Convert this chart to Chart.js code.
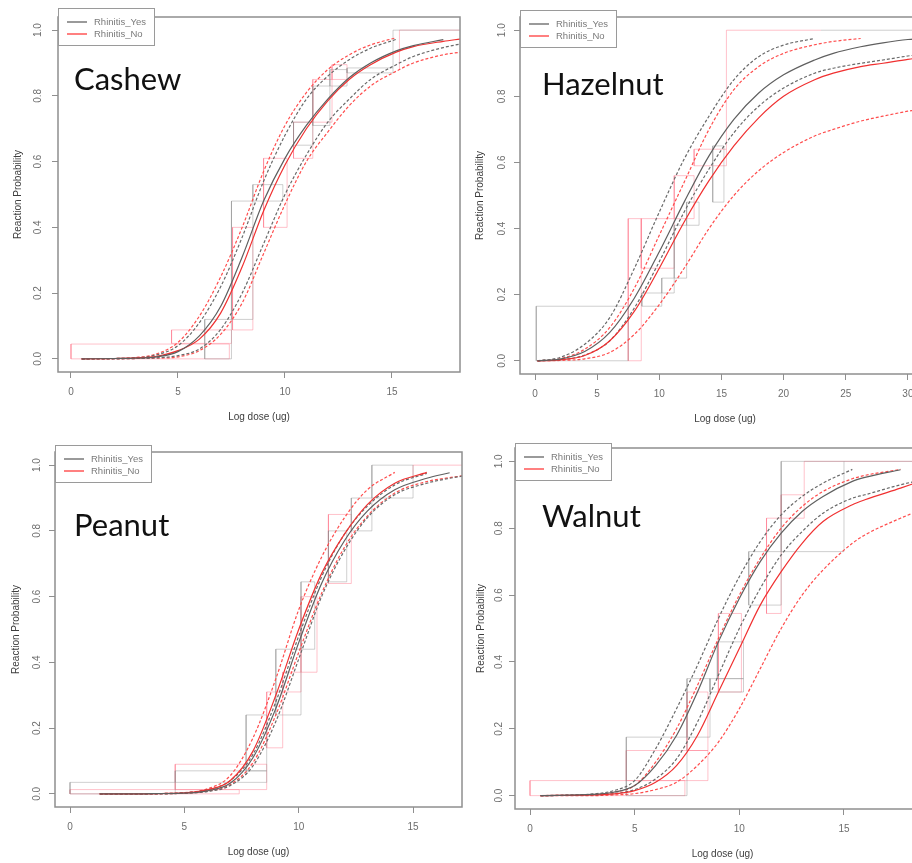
<!DOCTYPE html>
<html>
<head>
<meta charset="utf-8">
<title>Reaction probability by rhinitis status</title>
<script src="https://cdn.jsdelivr.net/npm/chart.js@4.4.1/dist/chart.umd.min.js"></script>
<style>
  html, body { margin: 0; padding: 0; background: #fff; overflow: hidden; }
  body { width: 912px; height: 863px; position: relative; }
  canvas { position: absolute; }
  .food { position: absolute; font-family: Lato, sans-serif; font-size: 31px; line-height: 31px; color: #111; white-space: nowrap; }
  .key { position: absolute; width: 97px; height: 38px; box-sizing: border-box; border: 1px solid #9a9a9a; background: #fff;
         font-family: 'Liberation Sans', Arial, sans-serif; font-size: 9.5px; color: #7a7a7a; }
  .key div { position: absolute; left: 35px; height: 12px; line-height: 12px; white-space: nowrap; }
  .key i { position: absolute; left: 8px; width: 20px; height: 2px; }
</style>
</head>
<body>
<script>
// shared axis ticks
const probTicks = [0, 0.2, 0.4, 0.6, 0.8, 1.0];
const doseTicks = [0, 5, 10, 15];
const hazelDoseTicks = [0, 5, 10, 15, 20, 25, 30];
const groups = ['Rhinitis_Yes', 'Rhinitis_No'];

// Cashew: fitted curve and confidence limits per group
const cashewDose     = [0.5, 2, 3, 4, 5, 6, 7, 8, 9, 10, 11, 12, 13, 14, 15.2, 16, 17.4, 18.2];
const cashewYesFit   = [0, 0.001, 0.002, 0.006, 0.022, 0.07, 0.16, 0.31, 0.48, 0.61, 0.71, 0.79, 0.855, 0.90, 0.937, 0.953, 0.971, null];
const cashewYesUpper = [0, 0.001, 0.003, 0.012, 0.04, 0.11, 0.22, 0.37, 0.54, 0.68, 0.79, 0.86, 0.91, 0.945, 0.972, null, null, null];
const cashewYesLower = [0, 0, 0.001, 0.003, 0.01, 0.03, 0.09, 0.20, 0.35, 0.50, 0.62, 0.72, 0.79, 0.85, 0.895, 0.92, 0.947, 0.958];
const cashewNoFit    = [0, 0.001, 0.003, 0.008, 0.025, 0.06, 0.14, 0.28, 0.45, 0.59, 0.70, 0.785, 0.85, 0.895, 0.933, 0.95, 0.966, 0.973];
const cashewNoUpper  = [0, 0.001, 0.004, 0.015, 0.05, 0.13, 0.25, 0.40, 0.57, 0.71, 0.81, 0.88, 0.925, 0.955, 0.977, null, null, null];
const cashewNoLower  = [0, 0, 0.001, 0.002, 0.006, 0.025, 0.075, 0.17, 0.32, 0.47, 0.60, 0.69, 0.77, 0.83, 0.875, 0.90, 0.925, 0.933];
// interval boxes [dose from, dose to, prob from, prob to]; a zero width or height gives a single edge
const cashewYesBoxes = [[6.25, 7.5, 0, 0.12], [7.5, 8.5, 0.12, 0.48], [8.5, 9.9, 0.48, 0.53], [10.4, 11.3, 0.65, 0.72],
                        [11.3, 12.1, 0.71, 0.83], [12.1, 12.9, 0.83, 0.88], [12.9, 15.05, 0.87, 0.885],
                        [15.05, 15.05, 0.885, 1.0], [15.05, 18.2, 1.0, 1.0]];
const cashewNoBoxes  = [[0, 7.4, 0, 0.045], [4.7, 7.5, 0.047, 0.088], [7.55, 8.5, 0.088, 0.40], [9.0, 10.1, 0.40, 0.61],
                        [10.4, 11.3, 0.61, 0.72], [11.3, 12.2, 0.72, 0.85], [12.2, 12.9, 0.85, 0.895],
                        [15.35, 15.35, 0.88, 1.0], [15.35, 18.2, 1.0, 1.0]];

// Hazelnut
const hazelDose     = [0.2, 2, 4, 6, 8, 10, 12, 14, 16, 18, 20, 22.5, 24, 26.2, 28, 30, 31.8];
const hazelYesFit   = [0, 0.005, 0.028, 0.085, 0.19, 0.33, 0.48, 0.62, 0.73, 0.81, 0.865, 0.91, 0.93, 0.95, 0.962, 0.972, 0.976];
const hazelYesUpper = [0, 0.01, 0.05, 0.13, 0.28, 0.45, 0.61, 0.74, 0.85, 0.92, 0.955, 0.975, null, null, null, null, null];
const hazelYesLower = [0, 0.003, 0.017, 0.06, 0.16, 0.30, 0.45, 0.58, 0.69, 0.77, 0.825, 0.87, 0.885, 0.90, 0.91, 0.922, 0.93];
const hazelNoFit    = [0, 0.003, 0.016, 0.06, 0.15, 0.28, 0.42, 0.545, 0.65, 0.735, 0.80, 0.85, 0.87, 0.89, 0.90, 0.912, 0.92];
const hazelNoUpper  = [0, 0.006, 0.035, 0.10, 0.22, 0.38, 0.54, 0.70, 0.82, 0.89, 0.93, 0.956, 0.966, 0.975, null, null, null];
const hazelNoLower  = [0, 0.001, 0.006, 0.025, 0.08, 0.17, 0.28, 0.40, 0.50, 0.575, 0.63, 0.68, 0.70, 0.725, 0.74, 0.755, 0.765];
const hazelYesBoxes = [[0.1, 7.5, 0, 0.165], [8.6, 10.2, 0.165, 0.205], [10.2, 11.2, 0.205, 0.25], [11.2, 12.2, 0.25, 0.41],
                       [12.2, 13.2, 0.41, 0.48], [14.3, 15.2, 0.48, 0.65], [23.0, 31.8, 1.0, 1.0]];
const hazelNoBoxes  = [[7.5, 8.55, 0, 0.43], [8.55, 11.2, 0.28, 0.43], [11.2, 12.8, 0.43, 0.56], [12.8, 15.4, 0.59, 0.64],
                       [15.4, 15.4, 0.64, 1.0], [15.4, 23.0, 1.0, 1.0]];

// Peanut
const peanutDose     = [1.3, 3, 4, 5, 6, 7, 8, 9, 10, 11, 12, 13, 14.2, 15.6, 16.6, 17.2];
const peanutYesFit   = [0, 0, 0.001, 0.002, 0.009, 0.032, 0.11, 0.26, 0.46, 0.64, 0.77, 0.86, 0.925, 0.96, 0.977, null];
const peanutYesUpper = [0, 0, 0.001, 0.003, 0.012, 0.04, 0.12, 0.28, 0.48, 0.66, 0.79, 0.875, 0.94, 0.975, null, null];
const peanutYesLower = [0, 0, 0, 0.002, 0.007, 0.025, 0.085, 0.22, 0.41, 0.60, 0.74, 0.84, 0.91, 0.945, 0.96, 0.967];
const peanutNoFit    = [0, 0, 0.001, 0.003, 0.012, 0.04, 0.13, 0.30, 0.50, 0.67, 0.79, 0.88, 0.945, 0.978, null, null];
const peanutNoUpper  = [0, 0, 0.001, 0.004, 0.015, 0.055, 0.17, 0.35, 0.56, 0.72, 0.84, 0.925, 0.978, null, null, null];
const peanutNoLower  = [0, 0, 0, 0.002, 0.008, 0.028, 0.095, 0.24, 0.43, 0.61, 0.75, 0.845, 0.915, 0.95, 0.962, 0.968];
const peanutYesBoxes = [[0, 4.6, 0, 0.035], [4.6, 8.6, 0.035, 0.07], [7.7, 8.6, 0.07, 0.24], [9.0, 10.1, 0.24, 0.44],
                        [10.1, 10.7, 0.44, 0.645], [11.3, 12.1, 0.645, 0.80], [12.3, 13.2, 0.80, 0.90], [13.2, 15.0, 0.90, 1.0]];
const peanutNoBoxes  = [[0, 7.4, 0, 0.013], [4.6, 8.6, 0.013, 0.09], [8.6, 9.3, 0.14, 0.31], [9.3, 10.1, 0.31, 0.37],
                        [10.1, 10.8, 0.37, 0.60], [11.3, 12.3, 0.64, 0.85], [15.0, 15.0, 0.96, 1.0], [15.0, 17.2, 1.0, 1.0]];

// Walnut
const walnutDose     = [0.5, 3, 4, 5, 6, 7, 8, 9, 10, 11, 12, 13, 14, 15.4, 16, 17.7, 18.4];
const walnutYesFit   = [0, 0.004, 0.01, 0.03, 0.09, 0.18, 0.31, 0.46, 0.59, 0.70, 0.785, 0.85, 0.895, 0.94, 0.952, 0.975, null];
const walnutYesUpper = [0, 0.005, 0.015, 0.045, 0.14, 0.26, 0.39, 0.53, 0.655, 0.76, 0.84, 0.895, 0.935, 0.976, null, null, null];
const walnutYesLower = [0, 0.002, 0.006, 0.018, 0.05, 0.11, 0.22, 0.36, 0.50, 0.62, 0.72, 0.79, 0.845, 0.89, 0.90, 0.93, 0.94];
const walnutNoFit    = [0, 0.002, 0.005, 0.015, 0.04, 0.09, 0.18, 0.31, 0.44, 0.57, 0.67, 0.755, 0.82, 0.87, 0.885, 0.92, 0.935];
const walnutNoUpper  = [0, 0.003, 0.01, 0.03, 0.10, 0.20, 0.33, 0.47, 0.60, 0.71, 0.80, 0.865, 0.91, 0.948, 0.958, 0.976, null];
const walnutNoLower  = [0, 0, 0.002, 0.006, 0.018, 0.04, 0.09, 0.16, 0.26, 0.38, 0.50, 0.60, 0.675, 0.755, 0.78, 0.83, 0.848];
const walnutYesBoxes = [[4.6, 7.5, 0, 0.175], [7.5, 8.6, 0.175, 0.35], [8.6, 10.2, 0.31, 0.35], [8.95, 10.2, 0.35, 0.46],
                        [10.45, 12.0, 0.57, 0.73], [12.0, 15.0, 0.73, 1.0], [15.0, 19.1, 1.0, 1.0]];
const walnutNoBoxes  = [[0, 7.4, 0, 0.045], [4.6, 8.5, 0.045, 0.135], [7.5, 8.5, 0.135, 0.31], [9.0, 10.1, 0.31, 0.545],
                        [11.3, 12.0, 0.545, 0.83], [12.0, 13.1, 0.83, 0.90], [13.1, 13.1, 0.90, 1.0], [13.1, 19.1, 1.0, 1.0]];

const yesColor = '#5f5f5f', yesDash = '#6a6a6a', noColor = '#f03030', noDash = '#ff4d4d';
const yesBox = 'rgba(140,140,140,0.42)', noBox = 'rgba(255,110,130,0.42)';
const keyColors = ['#9a9a9a', '#ff8080'];

Chart.defaults.font.family = "'Liberation Sans', Arial, sans-serif";
Chart.defaults.devicePixelRatio = 1;

function curve(dose, vals, color, dashed) {
  const pts = [];
  dose.forEach((x, i) => { if (vals[i] !== null) pts.push({ x: x, y: vals[i] }); });
  return { data: pts, borderColor: color, borderWidth: 1.2, borderDash: dashed ? [3, 2] : [],
           pointRadius: 0, cubicInterpolationMode: 'monotone', fill: false, order: 0 };
}

function rects(list, color) {
  return list.map(b => {
    let pts;
    if (b[0] === b[1] || b[2] === b[3]) {
      pts = [{ x: b[0], y: b[2] }, { x: b[1], y: b[3] }];
    } else {
      pts = [{ x: b[0], y: b[2] }, { x: b[1], y: b[2] }, { x: b[1], y: b[3] }, { x: b[0], y: b[3] }, { x: b[0], y: b[2] }];
    }
    return { data: pts, borderColor: color, borderWidth: 1, pointRadius: 0, tension: 0, fill: false, order: 1 };
  });
}

// full frame round the plotting region
const frame = {
  id: 'frame',
  afterDraw(chart) {
    const { ctx, chartArea: a } = chart;
    ctx.save();
    ctx.strokeStyle = '#8f8f8f';
    ctx.lineWidth = 1.5;
    ctx.strokeRect(a.left, a.top, a.right - a.left, a.bottom - a.top);
    ctx.restore();
  }
};

function panel(p) {
  const canvas = document.createElement('canvas');
  const w = p.box.r - p.box.l + 62, h = p.box.b - p.box.t + 60;
  canvas.width = w; canvas.height = h;
  canvas.style.left = (p.box.l - 58) + 'px';
  canvas.style.top = (p.box.t - 4) + 'px';
  canvas.style.width = w + 'px'; canvas.style.height = h + 'px';
  document.body.appendChild(canvas);

  const datasets = [
    curve(p.dose, p.yesFit, yesColor, false),
    curve(p.dose, p.noFit, noColor, false),
    curve(p.dose, p.yesUpper, yesDash, true),
    curve(p.dose, p.yesLower, yesDash, true),
    curve(p.dose, p.noUpper, noDash, true),
    curve(p.dose, p.noLower, noDash, true)
  ].concat(rects(p.yesBoxes, yesBox), rects(p.noBoxes, noBox));

  new Chart(canvas, {
    type: 'line',
    data: { datasets: datasets },
    plugins: [frame],
    options: {
      responsive: false,
      animation: false,
      events: [],
      layout: { padding: { left: 0, top: 4, right: 4, bottom: 0 } },
      plugins: { legend: { display: false }, tooltip: { enabled: false } },
      scales: {
        x: {
          type: 'linear', min: p.xMin, max: p.xMax,
          afterBuildTicks: s => { s.ticks = p.xTicks.map(v => ({ value: v })); },
          afterFit: s => { s.height = 56; },
          grid: { drawOnChartArea: false, drawTicks: true, tickLength: 6, color: '#8f8f8f' },
          border: { display: false },
          ticks: { padding: 8, color: '#6d6d6d', font: { size: 10 }, maxRotation: 0, callback: v => String(v) },
          title: { display: true, text: 'Log dose (ug)', color: '#3d3d3d', font: { size: 10 }, padding: { top: 0, bottom: 5 } }
        },
        y: {
          type: 'linear', min: -0.04, max: 1.04,
          afterBuildTicks: s => { s.ticks = probTicks.map(v => ({ value: v })); },
          afterFit: s => { s.width = 58; },
          grid: { drawOnChartArea: false, drawTicks: true, tickLength: 6, color: '#8f8f8f' },
          border: { display: false },
          ticks: { padding: p.yPad, minRotation: 90, maxRotation: 90, crossAlign: 'center', color: '#6d6d6d',
                   font: { size: 10 }, callback: v => v.toFixed(1) },
          title: { display: true, text: 'Reaction Probability', color: '#3d3d3d', font: { size: 10 },
                   padding: { top: p.yTitle, bottom: 0 } }
        }
      }
    }
  });

  // group key in the top-left corner of the frame
  const key = document.createElement('div');
  key.className = 'key';
  key.style.left = p.box.l + 'px';
  key.style.top = p.box.t + 'px';
  groups.forEach((g, i) => {
    const line = document.createElement('i');
    line.style.top = (12 + i * 12) + 'px';
    line.style.background = keyColors[i];
    key.appendChild(line);
    const txt = document.createElement('div');
    txt.style.top = (7 + i * 12) + 'px';
    txt.textContent = g;
    key.appendChild(txt);
  });
  document.body.appendChild(key);

  const name = document.createElement('div');
  name.className = 'food';
  name.textContent = p.name;
  name.style.left = p.nameAt[0] + 'px';
  name.style.top = (p.nameAt[1] - 27.5) + 'px';
  document.body.appendChild(name);
}

panel({ name: 'Cashew', nameAt: [74, 90], box: { l: 58, t: 8, r: 460, b: 372 }, xMin: -0.607, xMax: 18.18, xTicks: doseTicks,
        yPad: 7, yTitle: 12, dose: cashewDose, yesFit: cashewYesFit, yesUpper: cashewYesUpper, yesLower: cashewYesLower,
        noFit: cashewNoFit, noUpper: cashewNoUpper, noLower: cashewNoLower, yesBoxes: cashewYesBoxes, noBoxes: cashewNoBoxes });
panel({ name: 'Hazelnut', nameAt: [542, 95], box: { l: 520, t: 10, r: 930, b: 374 }, xMin: -1.207, xMax: 31.78, xTicks: hazelDoseTicks,
        yPad: 5, yTitle: 12, dose: hazelDose, yesFit: hazelYesFit, yesUpper: hazelYesUpper, yesLower: hazelYesLower,
        noFit: hazelNoFit, noUpper: hazelNoUpper, noLower: hazelNoLower, yesBoxes: hazelYesBoxes, noBoxes: hazelNoBoxes });
panel({ name: 'Peanut', nameAt: [74, 536], box: { l: 55, t: 445, r: 462, b: 807 }, xMin: -0.656, xMax: 17.14, xTicks: doseTicks,
        yPad: 5, yTitle: 13, dose: peanutDose, yesFit: peanutYesFit, yesUpper: peanutYesUpper, yesLower: peanutYesLower,
        noFit: peanutNoFit, noUpper: peanutNoUpper, noLower: peanutNoLower, yesBoxes: peanutYesBoxes, noBoxes: peanutNoBoxes });
panel({ name: 'Walnut', nameAt: [542, 527], box: { l: 515, t: 443, r: 930, b: 809 }, xMin: -0.717, xMax: 19.11, xTicks: doseTicks,
        yPad: 3, yTitle: 18, dose: walnutDose, yesFit: walnutYesFit, yesUpper: walnutYesUpper, yesLower: walnutYesLower,
        noFit: walnutNoFit, noUpper: walnutNoUpper, noLower: walnutNoLower, yesBoxes: walnutYesBoxes, noBoxes: walnutNoBoxes });
</script>
</body>
</html>
